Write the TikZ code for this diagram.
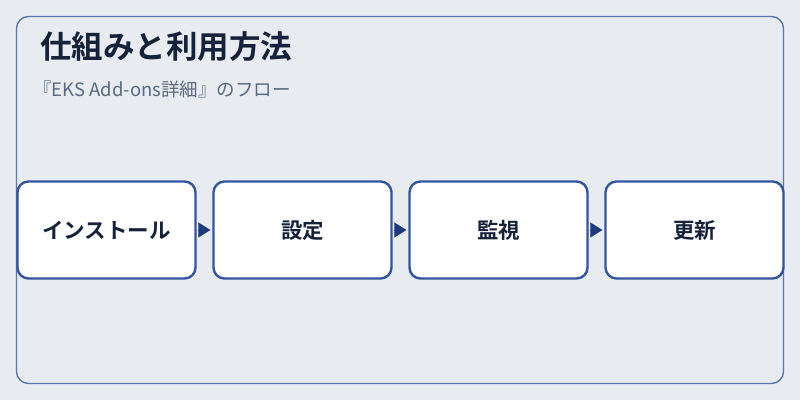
\documentclass[tikz,border=0pt]{standalone}
\usepackage{fontspec}
\setmainfont{Noto Sans CJK JP}[BoldFont={Noto Sans CJK JP Bold}]
\usetikzlibrary{arrows.meta}
\definecolor{bgcol}{HTML}{E8ECF1}
\definecolor{framecol}{HTML}{5B77AC}
\definecolor{boxcol}{HTML}{3355A0}
\definecolor{tipcol}{HTML}{1F3A7A}
\definecolor{titlecol}{HTML}{16223A}
\definecolor{subcol}{HTML}{5A6A82}
\tikzset{
  stepbox/.style={draw=boxcol,line width=2.4bp,fill=white,rounded corners=11bp,
    minimum width=178bp,minimum height=97bp,inner sep=0pt,
    font=\fontsize{21.5bp}{24bp}\selectfont\bfseries,text=titlecol},
  flow/.style={-{Triangle[length=12bp,width=15bp]},draw=tipcol,fill=tipcol,line width=0.1bp,
    shorten <=1bp,shorten >=2bp},
}
\begin{document}
\begin{tikzpicture}[line join=round]
  \useasboundingbox (0bp,0bp) rectangle (800bp,400bp);
  \fill [bgcol] (0bp,0bp) rectangle (800bp,400bp);
%%
  % Frame
  \draw [framecol,line width=1.4bp,rounded corners=12bp] (16.5bp,16.5bp) rectangle (783.5bp,383.5bp);
  \node (title) [anchor=west,inner sep=0pt,text=titlecol,font=\fontsize{31.5bp}{34bp}\selectfont\bfseries] at (40bp,353bp) {仕組みと利用方法};
  \node (sub) [anchor=west,inner sep=0pt,text=subcol,font=\fontsize{18.5bp}{20bp}\selectfont] at (33bp,311bp) {『EKS Add-ons詳細』のフロー};
  % Node: install
  \node (install) [stepbox] at (106.5bp,170bp) {インストール};
  % Node: config
  \node (config) [stepbox] at (302.5bp,170bp) {設定};
  % Node: monitor
  \node (monitor) [stepbox] at (498.5bp,170bp) {監視};
  % Node: update
  \node (update) [stepbox] at (694.5bp,170bp) {更新};
  % Edge: install -> config
  \draw [flow] (install.east) -- (config.west);
  % Edge: config -> monitor
  \draw [flow] (config.east) -- (monitor.west);
  % Edge: monitor -> update
  \draw [flow] (monitor.east) -- (update.west);
%
\end{tikzpicture}
\end{document}
